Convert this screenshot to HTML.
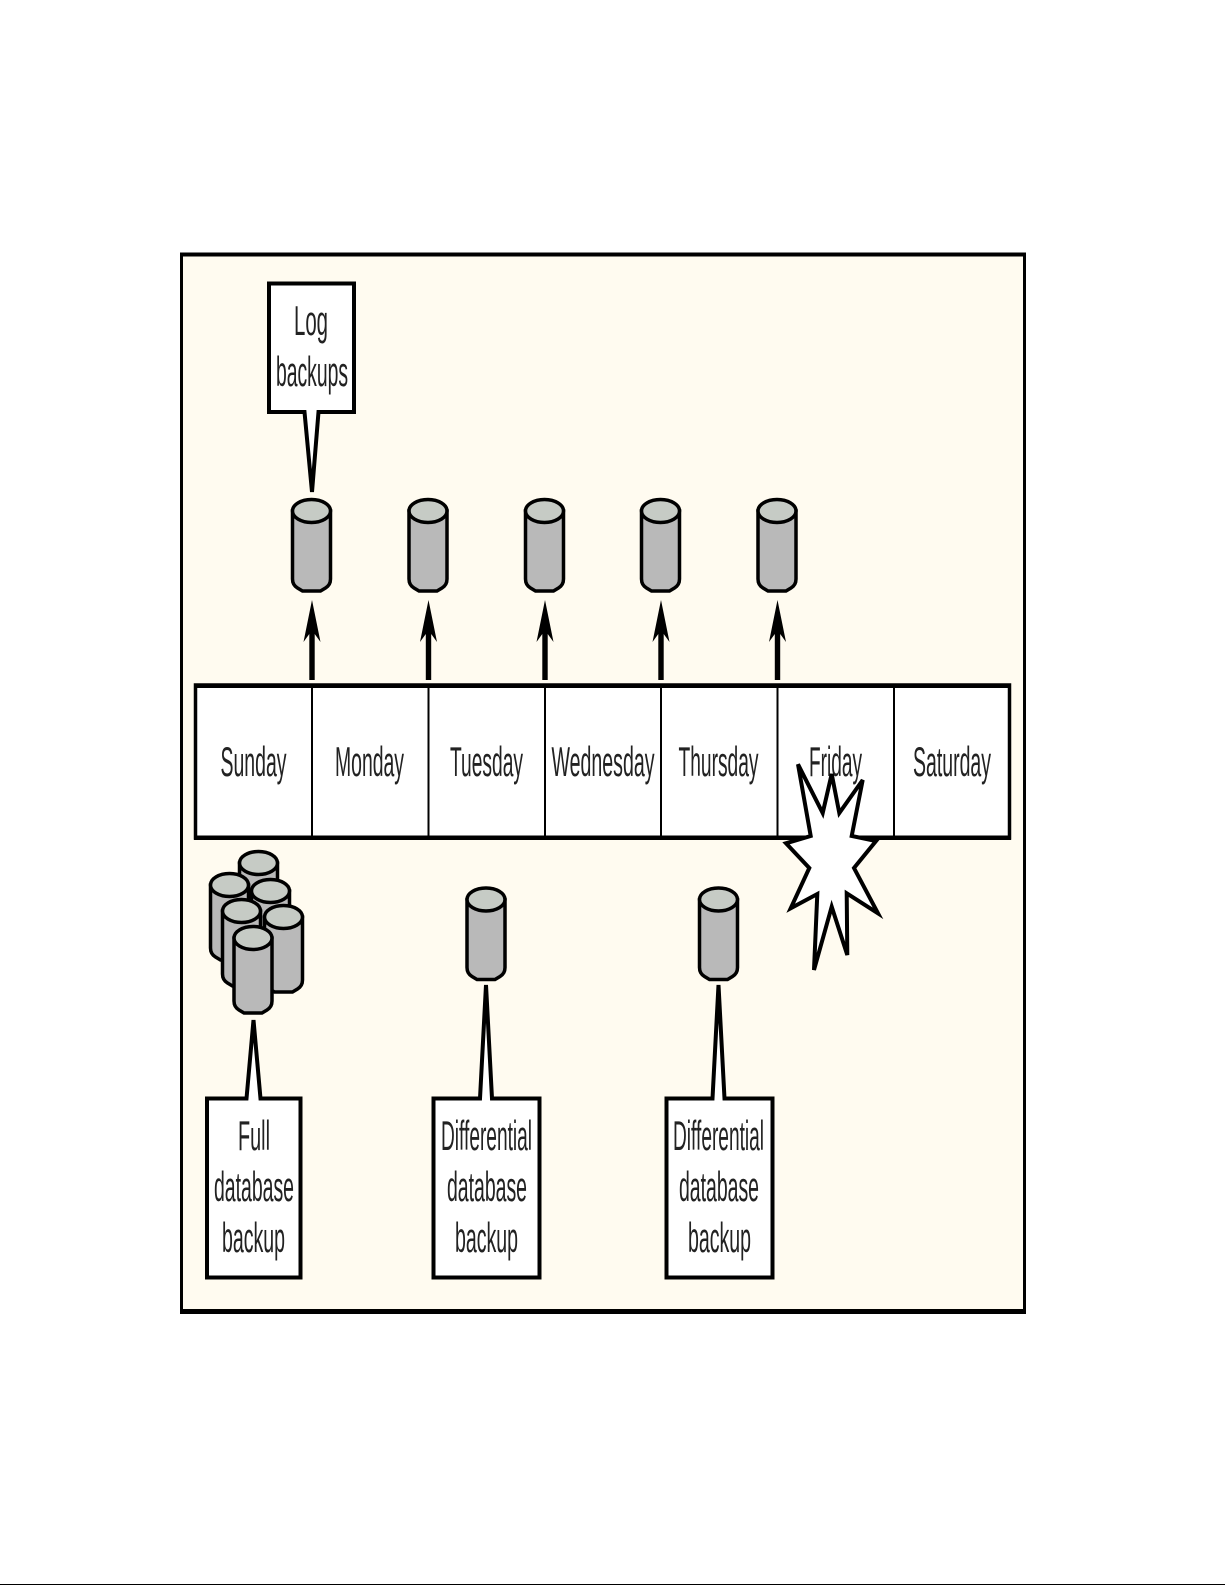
<!DOCTYPE html>
<html><head><meta charset="utf-8"><style>
html,body{margin:0;padding:0;background:#fff}
svg{display:block}
text{font-family:"Liberation Sans",sans-serif;font-size:42px;fill:#222}
</style></head><body>
<svg width="1225" height="1585" viewBox="0 0 1225 1585" xmlns="http://www.w3.org/2000/svg">
<defs>
<g id="cyl">
<path d="M-19 12V80Q-19 86 -14 89L-9 92H9L14 89Q19 86 19 80V12Z" fill="#b9b9b9" stroke="#000" stroke-width="3.5"/>
<ellipse cx="0" cy="12" rx="19" ry="11.5" fill="#c6cbc5" stroke="#000" stroke-width="3.5"/>
</g>
<g id="cys">
<path d="M-19 12V75Q-19 81 -14 84L-9 87H9L14 84Q19 81 19 75V12Z" fill="#b9b9b9" stroke="#000" stroke-width="3.5"/>
<ellipse cx="0" cy="12" rx="19" ry="11.5" fill="#c6cbc5" stroke="#000" stroke-width="3.5"/>
</g>
<g id="arr">
<path d="M0 -80L8.5 -38L2.7 -46V0H-2.7V-46L-8.5 -38Z" fill="#000"/>
</g>
</defs>
<rect width="1225" height="1585" fill="#fff"/>
<rect x="181.5" y="254.5" width="843" height="1056" fill="#fffbf0" stroke="#000" stroke-width="3"/>
<rect x="180" y="252.5" width="846" height="4" fill="#000"/>
<rect x="180" y="1309" width="846" height="5" fill="#000"/>
<rect x="0" y="1584" width="1225" height="1" fill="#000"/>

<!-- log callout -->
<path d="M269 283.5H354V412H318.5L312 492L304.5 412H269Z" fill="#fff" stroke="#000" stroke-width="4"/>
<text x="294" y="335" textLength="34" lengthAdjust="spacingAndGlyphs">Log</text>
<text x="276" y="386" textLength="72" lengthAdjust="spacingAndGlyphs">backups</text>

<use href="#cyl" x="311.5" y="499"/>
<use href="#cyl" x="428" y="499"/>
<use href="#cyl" x="544.5" y="499"/>
<use href="#cyl" x="660.5" y="499"/>
<use href="#cyl" x="777" y="499"/>

<use href="#arr" x="312" y="680"/>
<use href="#arr" x="428.5" y="680"/>
<use href="#arr" x="545" y="680"/>
<use href="#arr" x="661" y="680"/>
<use href="#arr" x="777.5" y="680"/>

<!-- day bar -->
<rect x="195.5" y="685" width="814" height="153" fill="#fff" stroke="#000" stroke-width="3.5"/>
<rect x="194" y="683.5" width="817" height="4.5" fill="#000"/>
<rect x="194" y="835.5" width="817" height="4.5" fill="#000"/>
<g stroke="#000" stroke-width="2">
<line x1="312" y1="685" x2="312" y2="838"/>
<line x1="428.5" y1="685" x2="428.5" y2="838"/>
<line x1="545" y1="685" x2="545" y2="838"/>
<line x1="661" y1="685" x2="661" y2="838"/>
<line x1="777.5" y1="685" x2="777.5" y2="838"/>
<line x1="894" y1="685" x2="894" y2="838"/>
</g>
<text x="220.5" y="776" textLength="66" lengthAdjust="spacingAndGlyphs">Sunday</text>
<text x="335" y="776" textLength="69" lengthAdjust="spacingAndGlyphs">Monday</text>
<text x="450" y="776" textLength="73" lengthAdjust="spacingAndGlyphs">Tuesday</text>
<text x="551.5" y="776" textLength="103" lengthAdjust="spacingAndGlyphs">Wednesday</text>
<text x="678.5" y="776" textLength="80" lengthAdjust="spacingAndGlyphs">Thursday</text>
<text x="809" y="776" textLength="53" lengthAdjust="spacingAndGlyphs">Friday</text>
<text x="913" y="776" textLength="78" lengthAdjust="spacingAndGlyphs">Saturday</text>

<!-- burst -->
<path d="M798 764.3L822.7 813L831.7 774L839.3 813L862.7 780L851.7 836L876 841L854 868L878 913.3L846.7 893.3L847.3 955L831.7 906.7L814 970L817.3 894L790.7 908.3L809.3 868L786 843.3L810.7 836Z" fill="#fff" stroke="#000" stroke-width="4"/>

<!-- full cluster -->
<use href="#cys" x="258.5" y="851"/>
<use href="#cys" x="229.5" y="873"/>
<use href="#cys" x="270.5" y="879"/>
<use href="#cys" x="241.5" y="899"/>
<use href="#cys" x="283.5" y="905"/>
<use href="#cys" x="253" y="926"/>

<use href="#cyl" x="486" y="887.5"/>
<use href="#cyl" x="718.5" y="887.5"/>

<!-- bottom callouts -->
<path d="M207 1098.5H246.5L253.5 1020L260.5 1098.5H300.5V1277.5H207Z" fill="#fff" stroke="#000" stroke-width="4"/>
<path d="M433.5 1098.5H480L486 985L492 1098.5H539.5V1277.5H433.5Z" fill="#fff" stroke="#000" stroke-width="4"/>
<path d="M666.5 1098.5H712.5L718.5 985L724.5 1098.5H772.5V1277.5H666.5Z" fill="#fff" stroke="#000" stroke-width="4"/>

<text x="238" y="1150" textLength="32" lengthAdjust="spacingAndGlyphs">Full</text>
<text x="214" y="1201" textLength="80" lengthAdjust="spacingAndGlyphs">database</text>
<text x="222" y="1252" textLength="63" lengthAdjust="spacingAndGlyphs">backup</text>

<text x="441" y="1150" textLength="91" lengthAdjust="spacingAndGlyphs">Differential</text>
<text x="447" y="1201" textLength="80" lengthAdjust="spacingAndGlyphs">database</text>
<text x="455" y="1252" textLength="63" lengthAdjust="spacingAndGlyphs">backup</text>

<text x="673" y="1150" textLength="91" lengthAdjust="spacingAndGlyphs">Differential</text>
<text x="679" y="1201" textLength="80" lengthAdjust="spacingAndGlyphs">database</text>
<text x="688" y="1252" textLength="63" lengthAdjust="spacingAndGlyphs">backup</text>
</svg>
</body></html>
